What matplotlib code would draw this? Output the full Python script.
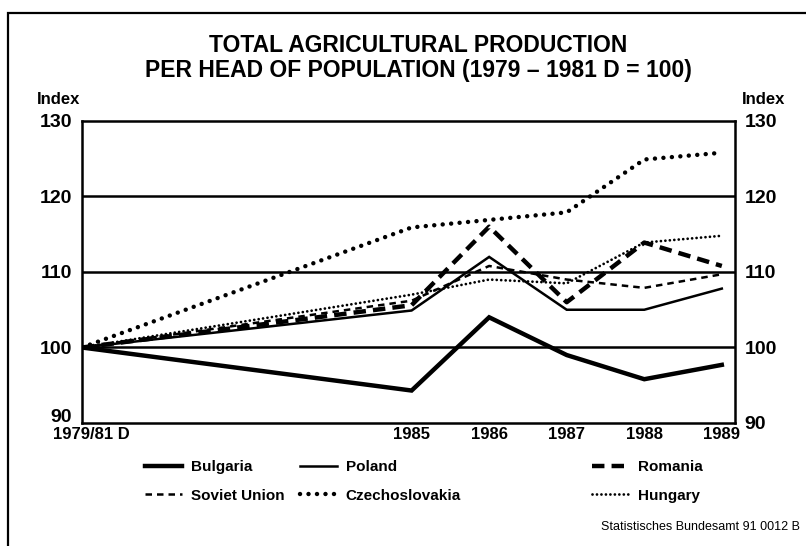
import matplotlib.pyplot as plt
import matplotlib.transforms as mtransforms
from matplotlib.patches import Rectangle

# ------------------------------------------------------------
# DATA
# ------------------------------------------------------------
BASE_POS = 1980.75          # position of the base period "1979/81 D"
X_POS = [BASE_POS, 1985, 1986, 1987, 1988, 1989]
X_LABELS = ["1979/81 D", "1985", "1986", "1987", "1988", "1989"]

BULGARIA = [100, 94.3, 104.0, 99.0, 95.8, 97.7]
POLAND = [100, 104.9, 112.0, 105.0, 105.0, 107.8]
ROMANIA = [100, 105.6, 116.0, 106.0, 113.9, 110.8]
SOVIET_UNION = [100, 106.2, 110.8, 109.0, 107.9, 109.7]
CZECHOSLOVAKIA = [100, 115.9, 116.9, 117.9, 124.9, 125.8]
HUNGARY = [100, 107.0, 109.0, 108.5, 113.9, 114.8]

Y_TICKS = [90, 100, 110, 120, 130]

TITLE = "TOTAL AGRICULTURAL PRODUCTION\nPER HEAD OF POPULATION (1979 \u2013 1981 D = 100)"
SOURCE = "Statistisches Bundesamt 91 0012 B"

# ------------------------------------------------------------
# STYLE
# ------------------------------------------------------------
plt.rcParams["font.family"] = ["Liberation Sans", "DejaVu Sans"]
plt.rcParams["font.weight"] = "bold"

SERIES = [
    ("Bulgaria", BULGARIA, dict(lw=3.2, ls="-")),
    ("Poland", POLAND, dict(lw=1.8, ls="-")),
    ("Romania", ROMANIA, dict(lw=3.2, ls=(0, (2.8, 1.6)))),
    ("Soviet Union", SOVIET_UNION, dict(lw=1.8, ls=(0, (2.6, 2.0)))),
    ("Czechoslovakia", CZECHOSLOVAKIA, dict(lw=3.2, ls=(0, (0.01, 1.9)), dash_capstyle="round")),
    ("Hungary", HUNGARY, dict(lw=2.0, ls=(0, (0.01, 1.6)), dash_capstyle="round")),
]

fig = plt.figure(figsize=(8.06, 5.46), dpi=100)
ax = fig.add_axes([82 / 806, 1 - 423 / 546, (735 - 82) / 806, (423 - 121) / 546])

lines = {}
for name, values, style in SERIES:
    line, = ax.plot(X_POS, values, color="black", solid_joinstyle="miter", label=name, **style)
    lines[name] = line

for y in [100, 110, 120]:
    ax.axhline(y, color="black", lw=1.8, zorder=0)

ax.set_xlim(BASE_POS, 1989.17)
ax.set_ylim(90, 130)
for s in ax.spines.values():
    s.set_linewidth(1.8)

ax.set_xticks(X_POS)
ax.set_xticklabels(X_LABELS, fontsize=12, fontweight="bold")
ax.tick_params(axis="x", length=0, pad=3)
# base period label sits a little right of the axis corner
base_lbl = ax.get_xticklabels()[0]
base_lbl.set_transform(base_lbl.get_transform() +
                       mtransforms.ScaledTranslation(0.09, 0, fig.dpi_scale_trans))

ax.set_yticks(Y_TICKS)
ax.set_yticklabels([str(v) for v in Y_TICKS], fontsize=14, fontweight="bold")
ax.tick_params(axis="y", length=0, pad=7, labelright=True)
# lowest left label is lifted clear of the base period label
low_lbl = ax.get_yticklabels()[0]
low_lbl.set_transform(low_lbl.get_transform() +
                      mtransforms.ScaledTranslation(0, 0.075, fig.dpi_scale_trans))

# axis captions
ax.text(-0.069, 1.07, "Index", transform=ax.transAxes, fontsize=12, fontweight="bold", ha="left", va="center")
ax.text(1.01, 1.07, "Index", transform=ax.transAxes, fontsize=12, fontweight="bold", ha="left", va="center")

fig.text(418 / 806, 1 - 58 / 546, TITLE, ha="center", va="center", fontsize=16.5,
         fontweight="bold", linespacing=1.15)

# legend in three columns
columns = [
    (145, ["Bulgaria", "Soviet Union"]),
    (300, ["Poland", "Czechoslovakia"]),
    (592, ["Romania", "Hungary"]),
]
for x0, names in columns:
    fig.legend([lines[n] for n in names], names, loc="upper left",
               bbox_to_anchor=(x0 / 806, 1 - 460 / 546), frameon=False,
               borderpad=0, borderaxespad=0, handlelength=2.4, handletextpad=0.6,
               labelspacing=0.95, prop=dict(size=11, weight="bold"))

fig.text(800 / 806, 1 - 527 / 546, SOURCE, ha="right", va="center", fontsize=9,
         fontweight="normal")

# page frame (top and left edges visible)
fig.patches.append(Rectangle((8 / 806, -0.1), 1.2, 1 - 13 / 546 + 0.1, transform=fig.transFigure,
                             fill=False, lw=1.6, ec="black"))

fig.savefig("out.png", dpi=100)
